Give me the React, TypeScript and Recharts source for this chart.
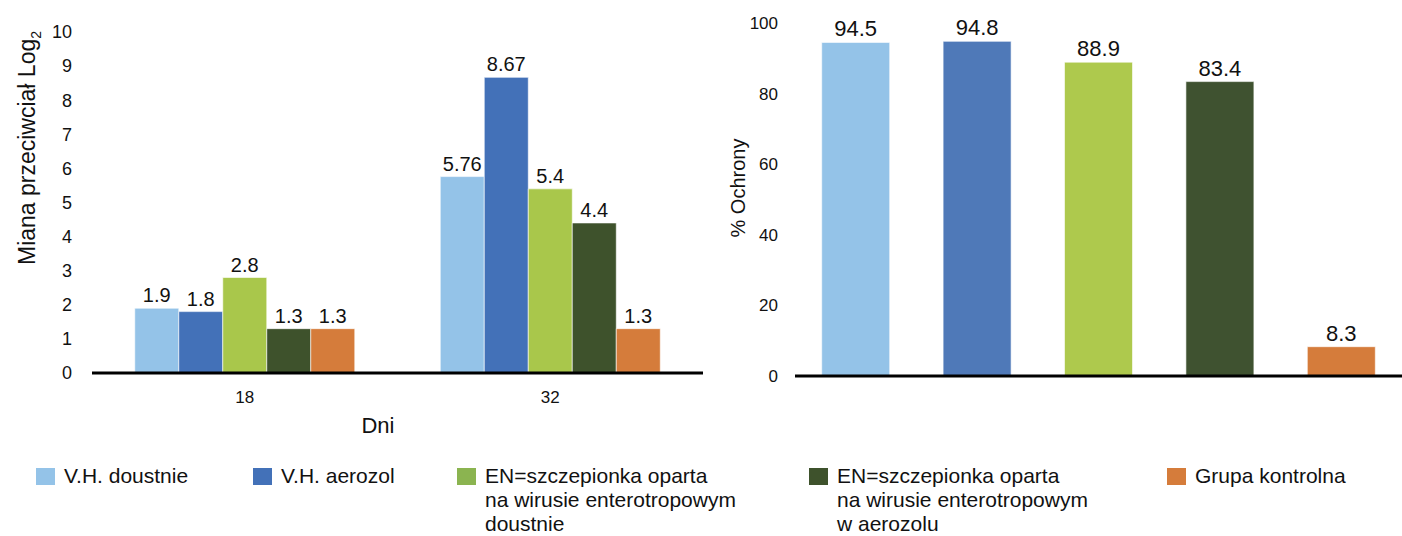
import { Bar, BarChart, Cell, LabelList, XAxis, YAxis } from "recharts";

const days = ["18", "32"];
const vhOral = [1.9, 5.76];
const vhAerosol = [1.8, 8.67];
const enOral = [2.8, 5.4];
const enAerosol = [1.3, 4.4];
const control = [1.3, 1.3];

const groups = ["V.H. doustnie", "V.H. aerozol", "EN doustnie", "EN aerozol", "Grupa kontrolna"];
const protection = [94.5, 94.8, 88.9, 83.4, 8.3];

const leftTicks = [0, 1, 2, 3, 4, 5, 6, 7, 8, 9, 10];
const rightTicks = [0, 20, 40, 60, 80, 100];

const colors = ["#94C3E8", "#4371B8", "#A9C74B", "#3E522C", "#D57C3B"];
const rightColors = ["#94C3E8", "#4F79B8", "#AEC94D", "#3F5230", "#D57C3B"];
const legendColors = ["#94C3E8", "#4371B8", "#8BB450", "#3E522C", "#D57C3B"];

const legendLabels = [
  ["V.H. doustnie"],
  ["V.H. aerozol"],
  ["EN=szczepionka oparta", "na wirusie enterotropowym", "doustnie"],
  ["EN=szczepionka oparta", "na wirusie enterotropowym", "w aerozolu"],
  ["Grupa kontrolna"]
];
const legendX = [36, 253, 457, 809, 1167];

const leftData = days.map((d, i) => ({
  day: d,
  vhOral: vhOral[i],
  vhAerosol: vhAerosol[i],
  enOral: enOral[i],
  enAerosol: enAerosol[i],
  control: control[i]
}));

const rightData = groups.map((g, i) => ({ group: g, value: protection[i] }));

const keys = ["vhOral", "vhAerosol", "enOral", "enAerosol", "control"];

const narrow = "'Liberation Sans Narrow', 'Liberation Sans', Arial, sans-serif";
const sans = "'Liberation Sans', Arial, sans-serif";

const LeftYLabel = () => (
  <text transform="translate(35,148) rotate(-90)" textAnchor="middle" fill="#111" fontFamily={sans} fontSize={23}>
    Miana przeciwciał Log
    <tspan fontSize={14} dy={6}>2</tspan>
  </text>
);

const RightYLabel = () => (
  <text transform="translate(45,188) rotate(-90)" textAnchor="middle" fill="#111" fontFamily={sans} fontSize={20}>
    % Ochrony
  </text>
);

const DaysLabel = () => (
  <text x={378} y={433} textAnchor="middle" fill="#111" fontFamily={sans} fontSize={22}>
    Dni
  </text>
);

const App = () => {
  return (
    <div style={{ position: "absolute", left: 0, top: 0, width: 1402, height: 536, background: "#fff" }}>
      <div style={{ position: "absolute", left: 0, top: 0 }}>
        <BarChart
          width={704}
          height={440}
          data={leftData}
          margin={{ top: 32, right: 1, left: 0, bottom: 37 }}
          barCategoryGap="14%"
          barGap={0}
        >
          <XAxis
            dataKey="day"
            axisLine={{ stroke: "#000", strokeWidth: 3 }}
            tickLine={false}
            tickSize={0}
            tickMargin={18}
            tick={{ fill: "#111", fontSize: 17, fontFamily: narrow }}
            label={<DaysLabel />}
          />
          <YAxis
            width={92}
            domain={[0, 10]}
            ticks={leftTicks}
            interval={0}
            axisLine={false}
            tickLine={false}
            tickSize={0}
            tickMargin={20}
            tick={{ fill: "#111", fontSize: 18, fontFamily: narrow }}
            label={<LeftYLabel />}
          />
          {keys.map((k, i) => (
            <Bar key={k} dataKey={k} fill={colors[i]} stroke="#fff" strokeWidth={0.6} isAnimationActive={false}>
              <LabelList dataKey={k} position="top" offset={6} fill="#111" fontSize={20} fontFamily={sans} />
            </Bar>
          ))}
        </BarChart>
      </div>
      <div style={{ position: "absolute", left: 700, top: 0 }}>
        <BarChart
          width={702}
          height={440}
          data={rightData}
          margin={{ top: 23, right: 0, left: 0, bottom: 34 }}
          barCategoryGap="22%"
        >
          <XAxis
            dataKey="group"
            axisLine={{ stroke: "#000", strokeWidth: 3 }}
            tick={false}
            tickLine={false}
            height={30}
          />
          <YAxis
            width={95}
            domain={[0, 100]}
            ticks={rightTicks}
            interval={0}
            axisLine={false}
            tickLine={false}
            tickSize={0}
            tickMargin={17}
            tick={{ fill: "#111", fontSize: 17, fontFamily: narrow }}
            label={<RightYLabel />}
          />
          <Bar dataKey="value" isAnimationActive={false} stroke="#fff" strokeWidth={0.6}>
            {rightData.map((d, i) => (
              <Cell key={d.group} fill={rightColors[i]} />
            ))}
            <LabelList dataKey="value" position="top" offset={6} fill="#111" fontSize={22} fontFamily={sans} />
          </Bar>
        </BarChart>
      </div>
      {legendLabels.map((lines, i) => (
        <div
          key={i}
          style={{
            position: "absolute",
            left: legendX[i],
            top: 464,
            display: "flex",
            alignItems: "flex-start",
            fontFamily: sans,
            fontSize: 21,
            lineHeight: "24px",
            color: "#111"
          }}
        >
          <div style={{ width: 19, height: 17, background: legendColors[i], marginTop: 4, marginRight: 9 }} />
          <div>
            {lines.map((l, j) => (
              <div key={j}>{l}</div>
            ))}
          </div>
        </div>
      ))}
    </div>
  );
};

export default App;
